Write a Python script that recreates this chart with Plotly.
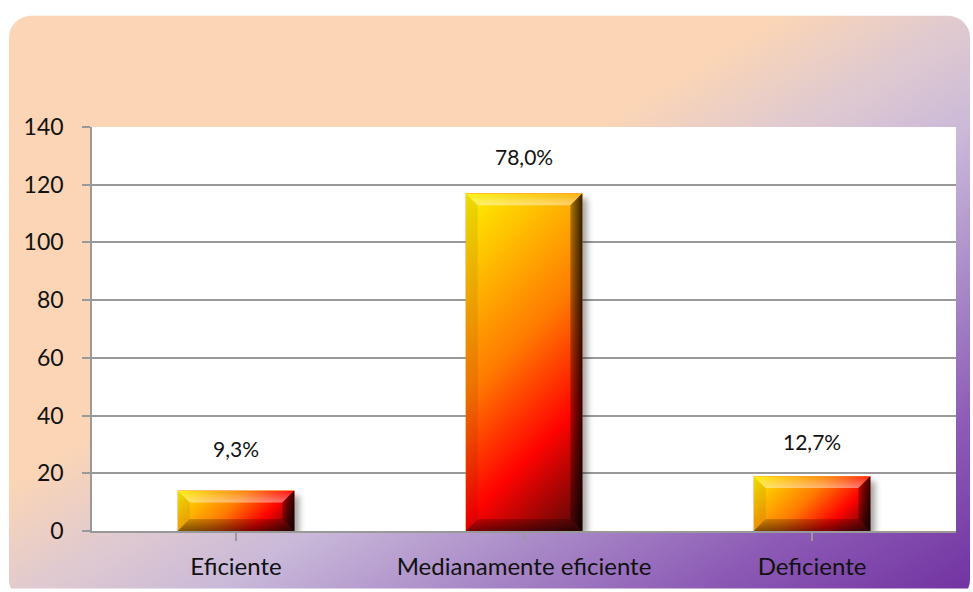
import base64
import plotly.graph_objects as go

# ---- data -------------------------------------------------------------
categories = ["Eficiente", "Medianamente eficiente", "Deficiente"]
counts = [14, 117, 19]
y_ticks = [0, 20, 40, 60, 80, 100, 120, 140]

total = sum(counts)
pct_labels = [f"{100 * c / total:.1f}%".replace(".", ",") for c in counts]

# ---- geometry ---------------------------------------------------------
W, H = 973, 592
ML, MR, MT, MB = 92, 17, 127, 58
PW, PH = W - ML - MR, H - MT - MB
Y_MAX = 140
BAR_FRAC = 0.405
PX_PER_CAT = PW / len(categories)
PX_PER_UNIT = PH / Y_MAX
LABEL_LIFT = [42, 37, 35]

FONT = "Lato"
GRID = "#999999"


def data_uri(svg):
    return "data:image/svg+xml;base64," + base64.b64encode(svg.encode()).decode()


def background_svg():
    return f"""<svg xmlns="http://www.w3.org/2000/svg" width="{W}" height="{H}" viewBox="0 0 {W} {H}">
<defs><linearGradient id="bg" x1="0" y1="0" x2="1" y2="1">
<stop offset="0" stop-color="#FBD5B5"/><stop offset="0.4" stop-color="#FBD5B5"/>
<stop offset="0.5" stop-color="#E0CAD0"/><stop offset="0.6" stop-color="#C9B8D9"/>
<stop offset="0.72" stop-color="#AA8BC8"/><stop offset="0.85" stop-color="#8C5AB5"/>
<stop offset="1" stop-color="#7030A0"/></linearGradient></defs>
<rect x="9" y="15" width="961" height="590" rx="22" ry="22" fill="url(#bg)"/>
</svg>"""


def bar_svg(bw, bh, padr=14, padb=12):
    b = min(12, bh / 3.2)
    tw, th = bw + padr, bh + padb
    d = (bw + bh) / 2
    return f"""<svg xmlns="http://www.w3.org/2000/svg" width="{tw:.1f}" height="{th:.1f}" viewBox="0 0 {tw:.2f} {th:.2f}" preserveAspectRatio="none">
<defs>
<linearGradient id="f" gradientUnits="userSpaceOnUse" x1="0" y1="0" x2="{d:.2f}" y2="{d:.2f}">
<stop offset="0" stop-color="#FFF200"/><stop offset="0.45" stop-color="#FF7A00"/>
<stop offset="0.72" stop-color="#FF0300"/><stop offset="1" stop-color="#4D0808"/></linearGradient>
<linearGradient id="tp" x1="0" y1="0" x2="0" y2="1">
<stop offset="0" stop-color="#fff" stop-opacity="0.05"/><stop offset="1" stop-color="#fff" stop-opacity="0.45"/></linearGradient>
<linearGradient id="rt" x1="0" y1="0" x2="1" y2="0">
<stop offset="0" stop-color="#000" stop-opacity="0.3"/><stop offset="1" stop-color="#000" stop-opacity="0.8"/></linearGradient>
<linearGradient id="bt" x1="0" y1="0" x2="0" y2="1">
<stop offset="0" stop-color="#000" stop-opacity="0.2"/><stop offset="1" stop-color="#000" stop-opacity="0.5"/></linearGradient>
<filter id="s" filterUnits="userSpaceOnUse" x="0" y="0" width="{tw:.2f}" height="{th:.2f}">
<feGaussianBlur stdDeviation="3"/></filter>
</defs>
<rect x="5" y="5" width="{bw:.2f}" height="{bh:.2f}" fill="#000" opacity="0.35" filter="url(#s)"/>
<rect x="0" y="0" width="{bw:.2f}" height="{bh:.2f}" fill="url(#f)"/>
<polygon points="0,0 {bw:.2f},0 {bw-b:.2f},{b:.2f} {b:.2f},{b:.2f}" fill="url(#tp)"/>
<polygon points="0,0 {b:.2f},{b:.2f} {b:.2f},{bh-b:.2f} 0,{bh:.2f}" fill="#000" fill-opacity="0.08"/>
<polygon points="{bw:.2f},0 {bw:.2f},{bh:.2f} {bw-b:.2f},{bh-b:.2f} {bw-b:.2f},{b:.2f}" fill="url(#rt)"/>
<polygon points="0,{bh:.2f} {bw:.2f},{bh:.2f} {bw-b:.2f},{bh-b:.2f} {b:.2f},{bh-b:.2f}" fill="url(#bt)"/>
</svg>"""


fig = go.Figure()
fig.add_trace(go.Bar(
    x=list(range(len(categories))), y=counts,
    width=BAR_FRAC, marker=dict(color="#FF7A00", line=dict(width=0)),
    hovertemplate="%{y}<extra></extra>",
))

images = [dict(
    source=data_uri(background_svg()), xref="paper", yref="paper",
    x=-ML / PW, y=1 + MT / PH, sizex=W / PW, sizey=H / PH,
    xanchor="left", yanchor="top", sizing="stretch", layer="below",
)]
padr, padb = 14, 12
for i, c in enumerate(counts):
    bw = BAR_FRAC * PX_PER_CAT
    bh = c * PX_PER_UNIT
    images.append(dict(
        source=data_uri(bar_svg(bw, bh, padr, padb)), xref="x", yref="y",
        x=i - BAR_FRAC / 2, y=c,
        sizex=(bw + padr) / PX_PER_CAT, sizey=(bh + padb) / PX_PER_UNIT,
        xanchor="left", yanchor="top", sizing="stretch", layer="above",
    ))

annotations = [dict(
    x=i, y=c, yshift=LABEL_LIFT[i], text=lbl, showarrow=False,
    xanchor="center", yanchor="middle",
    font=dict(family=FONT, size=21, color="#111111"),
) for i, (c, lbl) in enumerate(zip(counts, pct_labels))]

fig.update_layout(
    width=W, height=H, margin=dict(l=ML, r=MR, t=MT, b=MB, pad=0),
    paper_bgcolor="white", plot_bgcolor="rgba(0,0,0,0)",
    showlegend=False, bargap=1 - BAR_FRAC,
    images=images, annotations=annotations,
    shapes=[dict(type="rect", xref="paper", yref="paper", x0=0, x1=1, y0=0, y1=1,
                 fillcolor="white", line=dict(width=0), layer="below")],
    font=dict(family=FONT, size=24, color="#111111"),
)
fig.update_xaxes(
    tickmode="array", tickvals=list(range(len(categories))), ticktext=categories,
    range=[-0.5, len(categories) - 0.5], showgrid=False, zeroline=False,
    showline=True, linecolor=GRID, linewidth=2,
    ticks="outside", tickson="boundaries", ticklen=8, tickwidth=1.5, tickcolor=GRID,
    ticklabelstandoff=5, tickfont=dict(family=FONT, size=24, color="#111111"),
)
fig.update_yaxes(
    range=[0, Y_MAX], tickvals=y_ticks, showgrid=True, gridcolor=GRID, gridwidth=1.5,
    zeroline=False, showline=True, linecolor=GRID, linewidth=1.5,
    ticks="outside", ticklen=8, tickwidth=1.5, tickcolor=GRID,
    ticklabelstandoff=14, tickfont=dict(family=FONT, size=23, color="#111111"),
)

fig.write_html("out.html")
